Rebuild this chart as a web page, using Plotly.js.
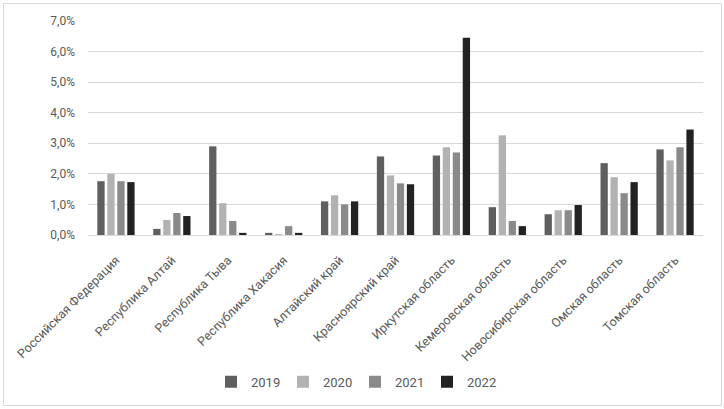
<!DOCTYPE html>
<html>
<head>
<meta charset="utf-8">
<script src="https://cdn.plot.ly/plotly-3.0.1.min.js"></script>
<style>
html,body{margin:0;padding:0;background:#fff;}
#chart{width:724px;height:409px;position:relative;}
#frame{position:absolute;left:3px;top:3px;width:717px;height:401px;border:1px solid #d9d9d9;pointer-events:none;}
</style>
</head>
<body>
<div id="wrap" style="position:relative;width:724px;height:409px;">
<div id="chart"></div>
<div id="frame"></div>
</div>
<script>
const categories = ["Российская Федерация","Республика Алтай","Республика Тыва","Республика Хакасия","Алтайский край","Красноярский край","Иркутская область","Кемеровская область","Новосибирская область","Омская область","Томская область"];
const years = ["2019","2020","2021","2022"];
const v2019 = [1.76, 0.20, 2.90, 0.07, 1.10, 2.57, 2.60, 0.91, 0.68, 2.35, 2.80];
const v2020 = [2.00, 0.49, 1.04, 0.03, 1.30, 1.95, 2.87, 3.26, 0.81, 1.89, 2.44];
const v2021 = [1.76, 0.72, 0.46, 0.29, 1.00, 1.69, 2.70, 0.46, 0.81, 1.37, 2.87];
const v2022 = [1.73, 0.62, 0.07, 0.07, 1.10, 1.66, 6.45, 0.29, 0.98, 1.73, 3.45];
const colors = ["#5f5f5f","#b2b2b2","#8a8a8a","#222222"];
const series = [v2019, v2020, v2021, v2022];

const font = "Roboto, 'Liberation Sans', sans-serif";
const traces = series.map((vals, i) => ({
  type: "bar",
  name: years[i],
  x: categories,
  y: vals,
  marker: {color: colors[i]},
  hoverinfo: "x+y+name"
}));

const layout = {
  width: 724, height: 409,
  margin: {l: 88, r: 21, t: 21, b: 174},
  paper_bgcolor: "#fff", plot_bgcolor: "#fff",
  separators: ", ",
  barmode: "group",
  bargap: 0.285,
  bargroupgap: 0.27,
  font: {family: font, size: 12, color: "#595959"},
  xaxis: {
    tickangle: -45,
    showgrid: false,
    showline: true, linecolor: "#d9d9d9", linewidth: 1,
    ticks: "",
    ticklabelstandoff: 12,
    tickfont: {family: font, size: 12.5, color: "#595959"},
    automargin: false
  },
  yaxis: {
    range: [0, 7],
    dtick: 1,
    tickformat: ".1f",
    ticksuffix: "%",
    showgrid: true, gridcolor: "#d9d9d9", gridwidth: 1,
    zeroline: true, zerolinecolor: "#d9d9d9",
    showline: false,
    ticks: "",
    ticklabelstandoff: 12,
    tickfont: {family: font, size: 12, color: "#595959"},
    automargin: false
  },
  legend: {
    orientation: "h",
    x: 0.2, xanchor: "left",
    y: -0.686, yanchor: "middle",
    font: {family: font, size: 13, color: "#595959"},
    entrywidth: 27, entrywidthmode: "pixels",
    itemwidth: 30,
    traceorder: "normal"
  },
  showlegend: true
};

Plotly.newPlot("chart", traces, layout, {displayModeBar: false, staticPlot: true});
</script>
</body>
</html>
